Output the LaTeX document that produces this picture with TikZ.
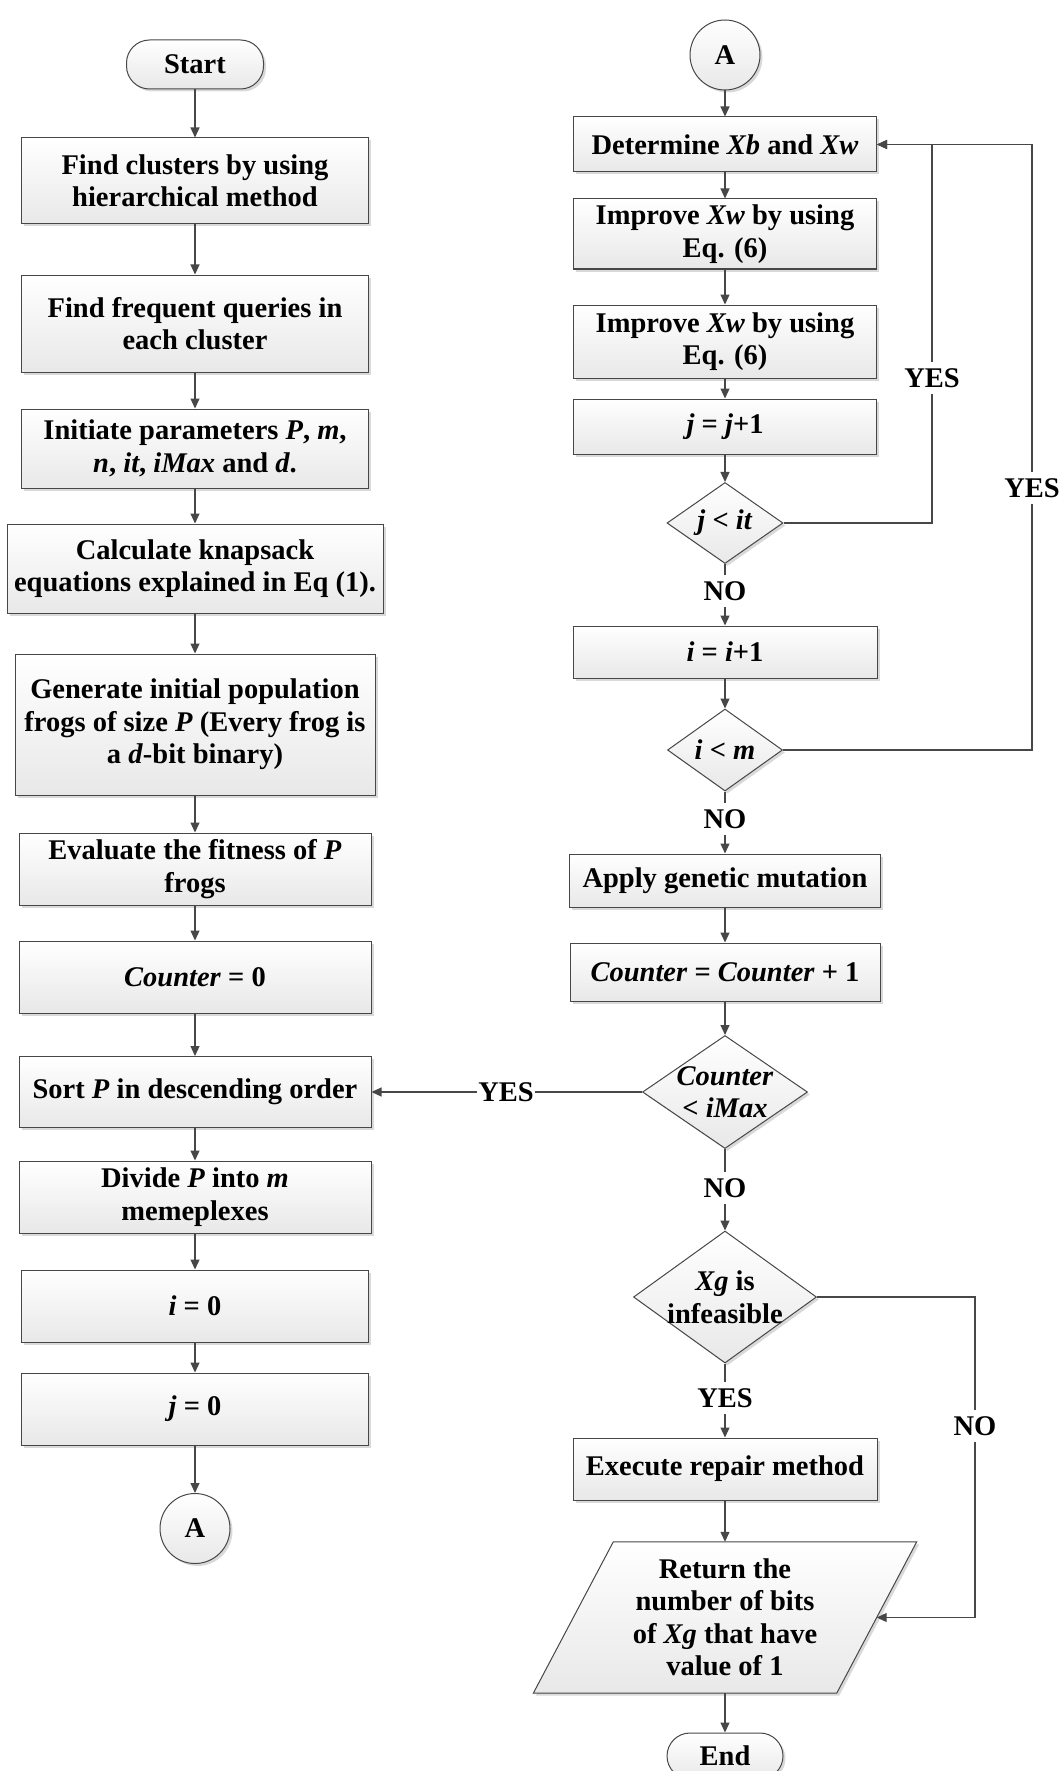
\documentclass[tikz,border=0pt]{standalone}
\usepackage{fontspec}
\setmainfont{Liberation Serif}
\usetikzlibrary{arrows.meta,calc,shapes,shadows}
\definecolor{lncol}{HTML}{474747}
\begin{document}
\begin{tikzpicture}[x=1pt,y=-1pt,font=\fontsize{28.5}{32.5}\selectfont\bfseries,>={Triangle[length=10pt,width=9pt]},
shd/.style={draw=lncol,line width=1pt,top color=white,bottom color=black!9,drop shadow={shadow xshift=2.5pt,shadow yshift=-2.5pt,opacity=.3}},
box/.style={shd,rectangle,align=center,inner sep=2pt,minimum width=347,minimum height=72},
term/.style={shd,rectangle,rounded corners=23pt,inner sep=2pt},
circ/.style={shd,circle,inner sep=0,minimum size=70},
dia/.style={shd,diamond,inner sep=0},
txt/.style={align=center,inner sep=0},
lbl/.style={inner xsep=1pt,inner ysep=6pt},
con/.style={lncol,line width=1.2pt}]
\useasboundingbox(0,0)rectangle(1062,1771);
\node[term,minimum width=137,minimum height=49](st)at(195,64.5){Start};
\node[box,minimum height=86](b1)at(195,181){Find clusters by using\\hierarchical method};
\node[box,minimum height=97](b2)at(195,323.5){Find frequent queries in\\each cluster};
\node[box,minimum height=79](b3)at(195,448.5){Initiate parameters \textit{P}, \textit{m},\\\textit{n}, \textit{it}, \textit{iMax} and \textit{d}.};
\node[box,minimum width=376,minimum height=89](b4)at(195,568.5){Calculate knapsack\\equations explained in Eq (1).};
\node[box,minimum width=360,minimum height=141](b5)at(195,724.5){Generate initial population\\frogs of size \textit{P} (Every frog is\\a \textit{d}-bit binary)};
\node[box,minimum width=352](b6)at(195,869){Evaluate the fitness of \textit{P}\\frogs};
\node[box,minimum width=352](b7)at(195,977){\textit{Counter} = 0};
\node[box,minimum width=352,minimum height=71](b8)at(195,1092){Sort \textit{P} in descending order};
\node[box,minimum width=352](b9)at(195,1197){Divide \textit{P} into \textit{m}\\memeplexes};
\node[box](b10)at(195,1306){\textit{i} = 0};\node[box](b11)at(195,1409){\textit{j} = 0};
\node[circ](a1)at(195,1528.5){A};
\node[circ](a2)at(725,55){A};
\node[box,minimum width=303,minimum height=55](r1)at(725,144.5){Determine \textit{Xb} and \textit{Xw}};
\node[box,minimum width=303,minimum height=70](r2)at(725,234){Improve \textit{Xw} by using\\Eq. (6)};
\node[box,minimum width=303,minimum height=73](r3)at(725,341.5){Improve \textit{Xw} by using\\Eq. (6)};
\node[box,minimum width=303,minimum height=55](r4)at(725,426.5){\textit{j} = \textit{j}+1};
\node[dia,minimum width=116,minimum height=81](d1)at(725,523){};\node[txt](d1t)at(d1){\textit{j} < \textit{it}};
\node[lbl](n1)at(725,591){NO};
\node[box,minimum width=304,minimum height=52](r5)at(725,652){\textit{i} = \textit{i}+1};
\node[dia,minimum width=115,minimum height=82](d2)at(725,750){};\node[txt](d2t)at(d2){\textit{i} < \textit{m}};
\node[lbl](n2)at(725,819){NO};
\node[box,minimum width=311,minimum height=53](r6)at(725,880.5){Apply genetic mutation};
\node[box,minimum width=310,minimum height=58](r7)at(725,972){\textit{Counter} = \textit{Counter} + 1};
\node[dia,minimum width=165,minimum height=113](d3)at(725,1092){};\node[txt](d3t)at(d3){\textit{Counter}\\< \textit{iMax}};
\node[lbl](n3)at(725,1188){NO};
\node[dia,minimum width=183,minimum height=132](d4)at(725,1297){};\node[txt](d4t)at(d4){\textit{Xg} is\\infeasible};
\node[lbl](y4)at(725,1398){YES};
\node[box,minimum width=304,minimum height=62](r8)at(725,1469){Execute repair method};
\node[rectangle,inner sep=0,minimum width=303,minimum height=151](ret)at(725,1617.5){};
\path[shd]($(ret.north west)+(40,0)$)--($(ret.north east)+(40,0)$)--($(ret.south east)-(40,0)$)--($(ret.south west)-(40,0)$)--cycle;
\node[txt](rett)at(ret){Return the\\number of bits\\of \textit{Xg} that have\\value of 1};
\node[term,minimum width=116,minimum height=46](en)at(725,1756){End};
\node[lbl](y1)at(932,378){YES};\node[lbl](y2)at(1032,488){YES};\node[lbl](y3)at(506,1092){YES};\node[lbl](n4)at(975,1426){NO};
\draw[con,->](st)--(b1);\draw[con,->](b1)--(b2);\draw[con,->](b2)--(b3);\draw[con,->](b3)--(b4);\draw[con,->](b4)--(b5);\draw[con,->](b5)--(b6);
\draw[con,->](b6)--(b7);\draw[con,->](b7)--(b8);\draw[con,->](b8)--(b9);\draw[con,->](b9)--(b10);\draw[con,->](b10)--(b11);\draw[con,->](b11)--(a1);
\draw[con,->](a2)--(r1);\draw[con,->](r1)--(r2);\draw[con,->](r2)--(r3);\draw[con,->](r3)--(r4);\draw[con,->](r4)--(d1);
\draw[con](d1)--(n1);\draw[con,->](n1)--(r5);\draw[con,->](r5)--(d2);\draw[con](d2)--(n2);\draw[con,->](n2)--(r6);\draw[con,->](r6)--(r7);\draw[con,->](r7)--(d3);
\draw[con](d3)--(n3);\draw[con,->](n3)--(d4);\draw[con](d4)--(y4);\draw[con,->](y4)--(r8);\draw[con,->](r8)--(ret);\draw[con,->](ret)--(en);
\draw[con](d1.east)-|(y1);\draw[con,->](y1)|-(r1);\draw[con](d2.east)-|(y2);\draw[con,->](y2)|-(r1);
\draw[con](d3)--(y3);\draw[con,->](y3)--(b8);
\draw[con](d4.east)-|(n4);\draw[con,->](n4)|-(ret.east);
\end{tikzpicture}
\end{document}
